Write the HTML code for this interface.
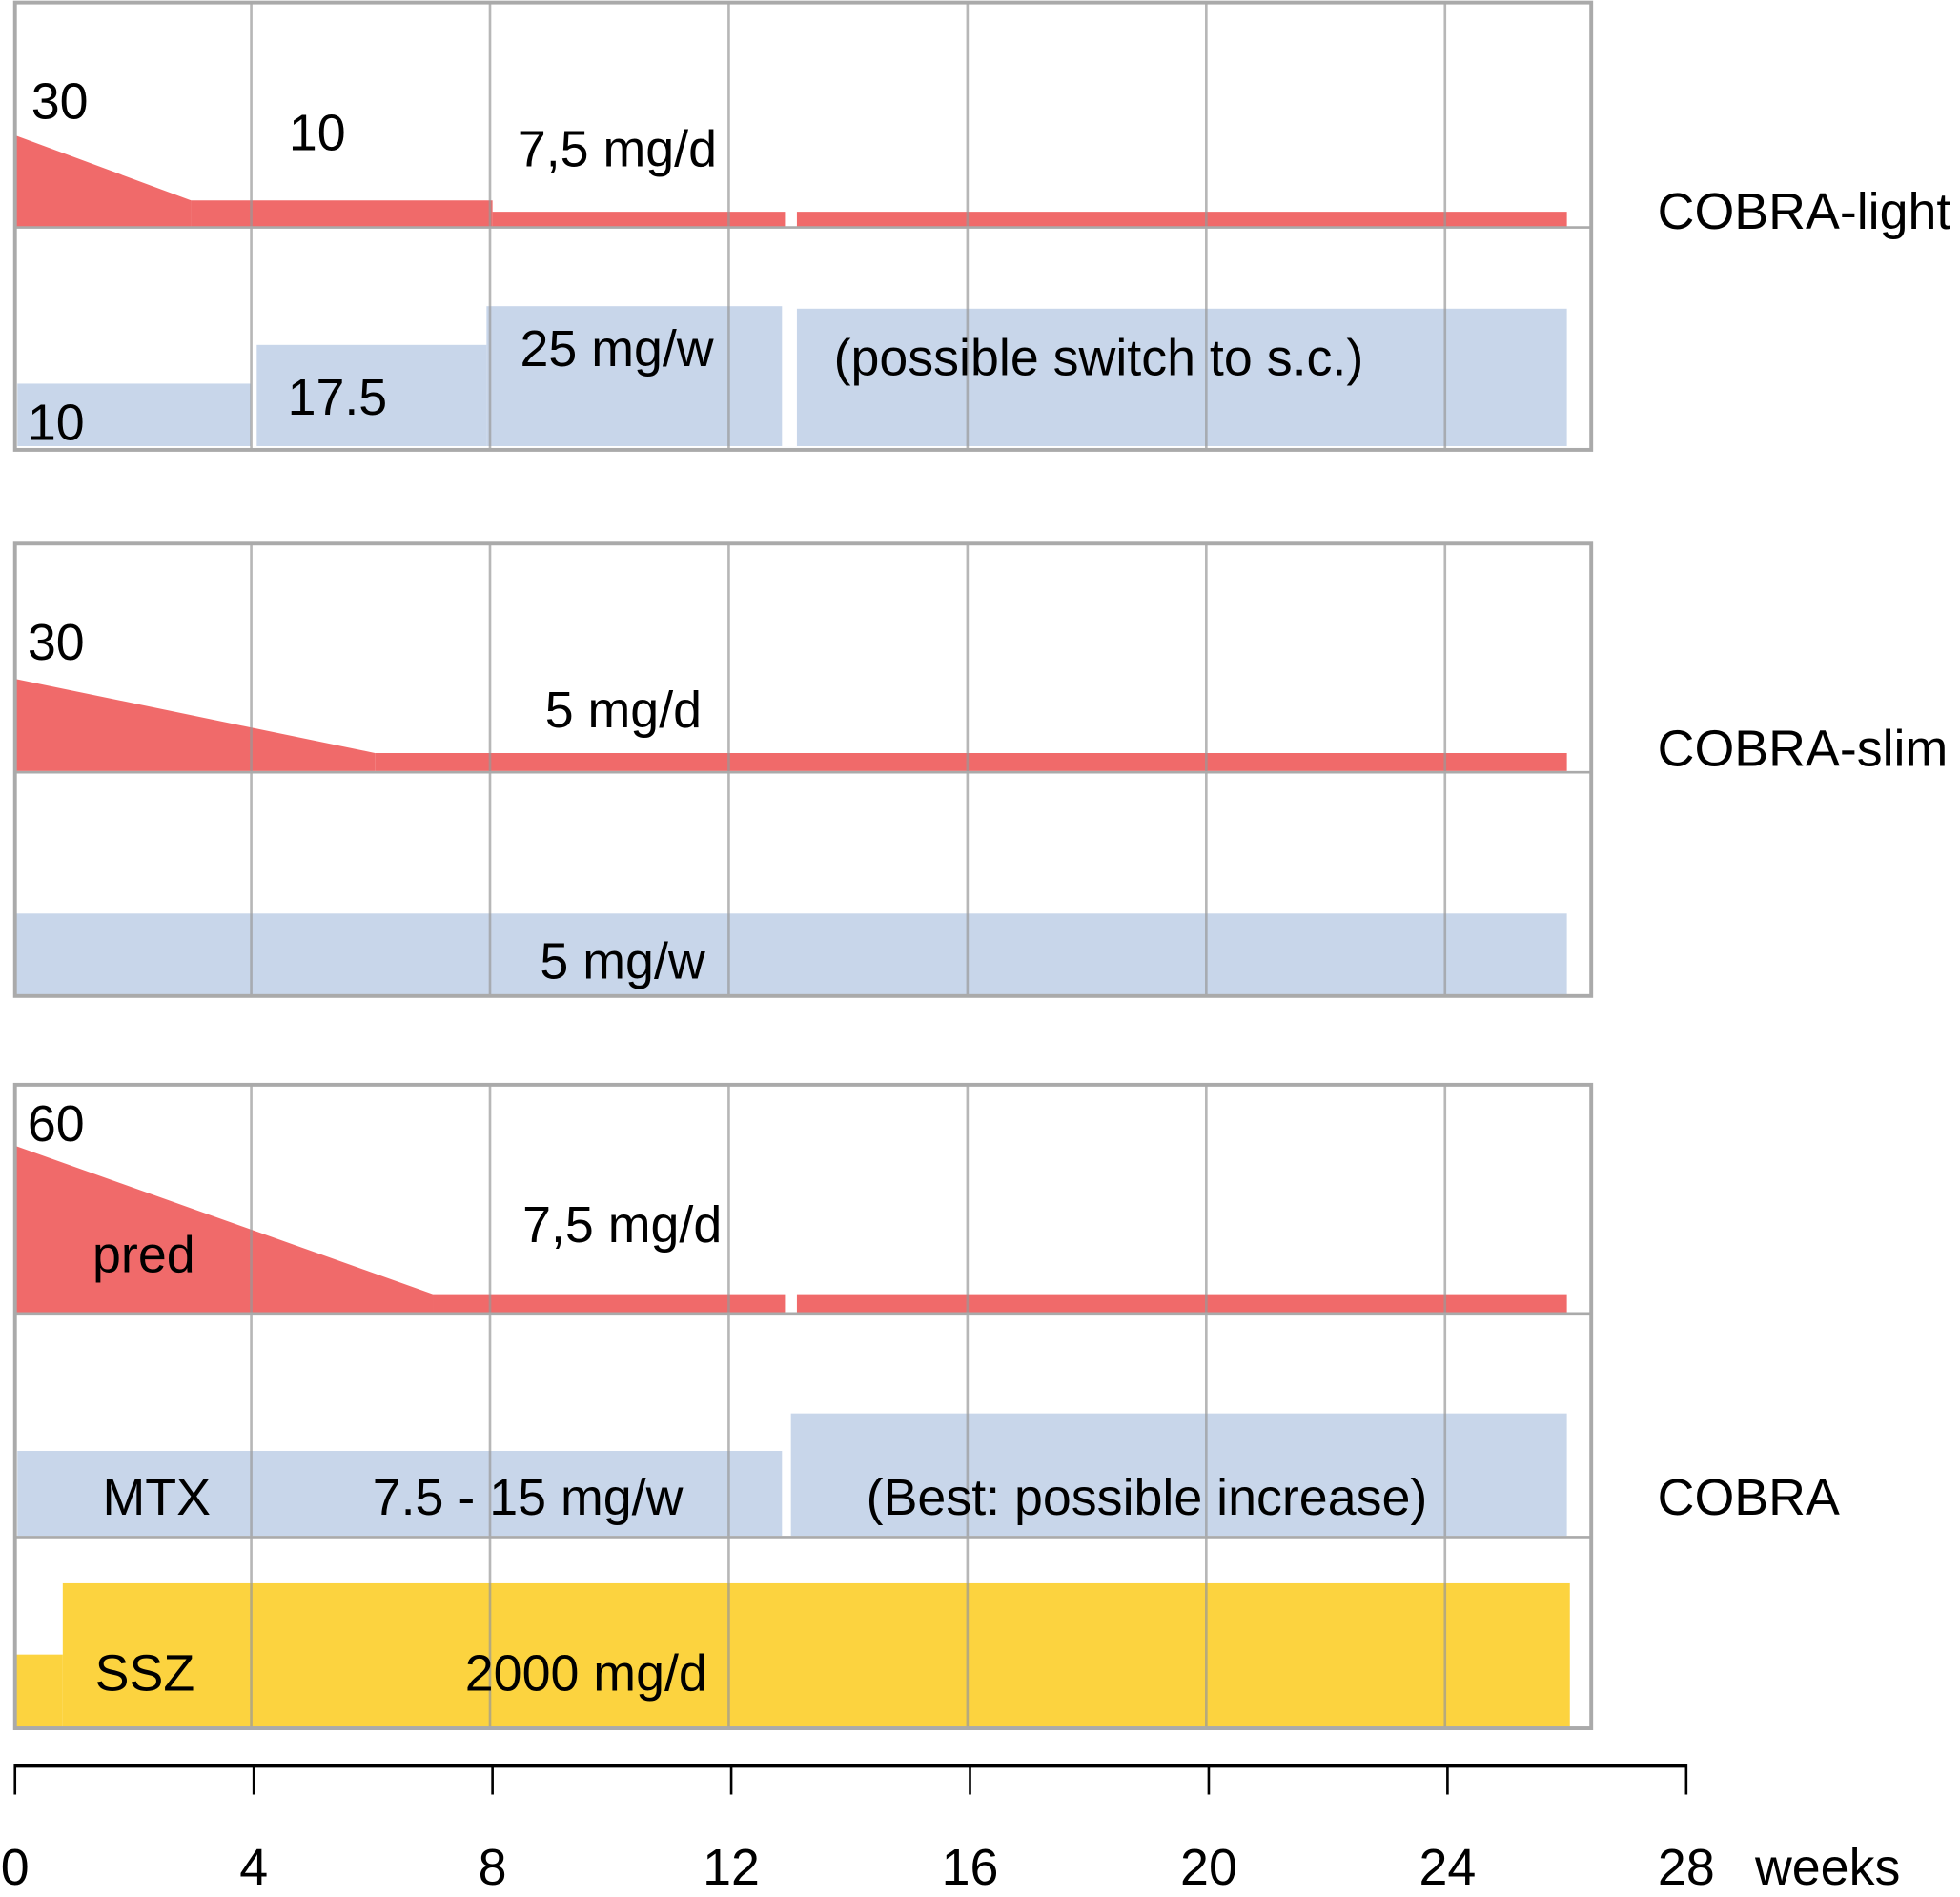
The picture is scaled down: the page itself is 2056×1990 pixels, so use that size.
<!DOCTYPE html>
<html><head><meta charset="utf-8"><style>
html,body{margin:0;padding:0;background:#fff;}
svg{display:block;}
text{font-family:"Liberation Sans",Arial,sans-serif;fill:#000;}
</style></head><body>
<svg id="c" width="2056" height="1990" viewBox="0 0 1568 1518" preserveAspectRatio="none" xmlns="http://www.w3.org/2000/svg">
<g id="fills"></g><g id="grid"></g><g id="labels"></g><g id="axis"></g>
</svg>
<script>
const tickWeeks=[0,4,8,12,16,20,24,28];
const gridWeeks=[4,8,12,16,20,24];
const panelTops=[2,435,868];
const panelBottoms=[360,797,1383];
const panelNames=["cobra-light","cobra-slim","cobra"];
const redStart=[0,2.95,8,13.1, 0,6.03, 0,7,13.1];
const redEnd  =[2.95,8,12.9,26, 6.03,26, 7,12.9,26];
const redLev0 =[0.41,0.12,0.07,0.07, 0.41,0.08, 0.74,0.08,0.08];
const redLev1 =[0.12,0.12,0.07,0.07, 0.08,0.08, 0.08,0.08,0.08];
const redBase =[182,182,182,182, 617,617, 1050,1050,1050];
const redScale=[180,180,180,180, 180,180, 180,180,180];
const blueStart=[0.04,4.05,7.9,13.1, 0,   0.04,13];
const blueEnd  =[3.95,7.9,12.85,26,  26,  12.85,26];
const blueTop  =[307,276,245,247,    731, 1161,1131];
const blueBot  =[357,357,357,357,    797, 1229,1229];
const ylwStart=[0,0.8];
const ylwEnd=[0.8,26.05];
const ylwTop=[1324,1267];
const ylwBot=1383;
const X0=12,PX=47.75;
function xs(w){return X0+w*PX;}
const NS="http://www.w3.org/2000/svg";
function mk(tag,attrs,parent){const e=document.createElementNS(NS,tag);for(const k in attrs)e.setAttribute(k,attrs[k]);document.getElementById(parent).appendChild(e);return e;}
for(let i=0;i<redStart.length;i++){
  const x1=xs(redStart[i]),x2=xs(redEnd[i]),b=redBase[i];
  const y1=b-redLev0[i]*redScale[i],y2=b-redLev1[i]*redScale[i];
  const p=mk('polygon',{points:`${x1},${b} ${x1},${y1} ${x2},${y2} ${x2},${b}`,fill:'#f06a6a'},'fills');
  
  
}
for(let i=0;i<blueStart.length;i++){
  const r=mk('rect',{x:xs(blueStart[i]),y:blueTop[i],width:xs(blueEnd[i])-xs(blueStart[i]),height:blueBot[i]-blueTop[i],fill:'#c8d6ea'},'fills');
  
  
}
for(let i=0;i<ylwStart.length;i++){
  const r=mk('rect',{x:xs(ylwStart[i]),y:ylwTop[i],width:xs(ylwEnd[i])-xs(ylwStart[i]),height:ylwBot-ylwTop[i],fill:'#fcd33f'},'fills');
  
  
}
const dividers=[182,618,1051,1230];
for(let p=0;p<3;p++){
  gridWeeks.forEach(w=>{
    const l=mk('line',{x1:xs(w)-2,x2:xs(w)-2,y1:panelTops[p],y2:panelBottoms[p],stroke:'#999','stroke-width':2,'stroke-opacity':0.7},'grid');
    
    
  });
  const r=mk('rect',{x:12,y:panelTops[p],width:1261,height:panelBottoms[p]-panelTops[p],fill:'none',stroke:'#aaa','stroke-width':3},'grid');
  
  
}
dividers.forEach(y=>{
  const l=mk('line',{x1:12,x2:1273,y1:y,y2:y,stroke:'#aaa','stroke-width':2},'grid');
  
  
});
const labTxt=["30","10","7,5 mg/d","25 mg/w","(possible switch to s.c.)","10","17.5","COBRA-light",
 "30","5 mg/d","5 mg/w","COBRA-slim",
 "60","pred","7,5 mg/d","MTX","7.5 - 15 mg/w","(Best: possible increase)","COBRA","SSZ","2000 mg/d"];
const labX=[25,231,414,416,667,22,230,1326, 22,436,432,1326, 22,74,418,82,298,693,1326,76,372];
const labY=[95,120,133,293,300,352,332,183, 528,582,783,613, 913,1018,994,1212,1212,1212,1212,1353,1353];
for(let i=0;i<labTxt.length;i++){
  const t=mk('text',{x:labX[i],y:labY[i],'font-size':41},'labels');
  t.textContent=labTxt[i];
  
  
}
const ax=mk('line',{x1:12,x2:xs(28),y1:1413,y2:1413,stroke:'#000','stroke-width':3},'axis');


tickWeeks.forEach(w=>{
  const l=mk('line',{x1:xs(w),x2:xs(w),y1:1412,y2:1436,stroke:'#000','stroke-width':2},'axis');
  
  
  const t=mk('text',{x:xs(w),y:1508,'font-size':41,'text-anchor':'middle'},'axis');
  t.textContent=String(w);
  
  
});
const wt=mk('text',{x:1404,y:1508,'font-size':41},'axis');
wt.textContent="weeks";


</script>
</body></html>
